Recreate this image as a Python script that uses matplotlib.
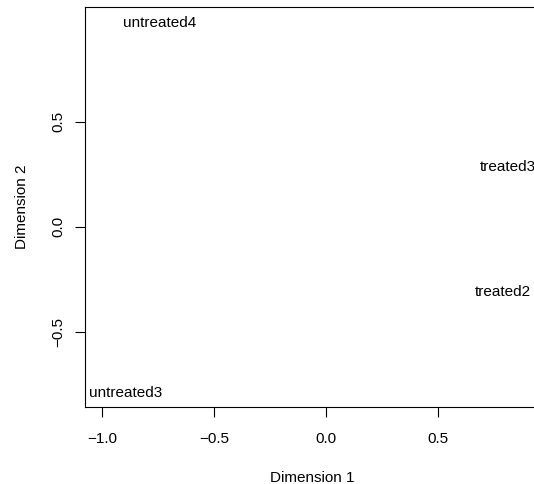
import matplotlib.pyplot as plt

plt.rcParams['font.family'] = ['Liberation Sans', 'DejaVu Sans']

# MDS coordinates of the samples
samples = ['untreated4', 'untreated3', 'treated3', 'treated2']
dim1 = [-0.74, -0.894, 0.815, 0.79]
dim2 = [0.97, -0.79, 0.285, -0.31]

W, H = 534, 484
fig = plt.figure(figsize=(W / 100, H / 100), dpi=100)
# plot region runs past the right edge of the device
left, right, top, bottom = 85, 540, 7, 407
ax = fig.add_axes([left / W, 1 - bottom / H, (right - left) / W, (bottom - top) / H])

for name, x, y in zip(samples, dim1, dim2):
    ax.text(x, y, name, ha='center', va='center', fontsize=11, clip_on=False)

ax.set_xlim(-1.075, 0.957)
ax.set_ylim(-0.859, 1.046)
ax.set_xticks([-1.0, -0.5, 0.0, 0.5])
ax.set_xticklabels(['\u22121.0', '\u22120.5', '0.0', '0.5'])
ax.set_yticks([-0.5, 0.0, 0.5])
ax.set_yticklabels(['\u22120.5', '0.0', '0.5'], rotation=90, va='center')
ax.tick_params(direction='out', length=7, width=0.8, labelsize=11, pad=11)
ax.tick_params(axis='y', pad=7)
for s in ax.spines.values():
    s.set_linewidth(0.8)

ax.set_xlabel('Dimension 1', fontsize=11, labelpad=18)
ax.set_ylabel('Dimension 2', fontsize=11, labelpad=16)

fig.savefig('out.png', dpi=100)
